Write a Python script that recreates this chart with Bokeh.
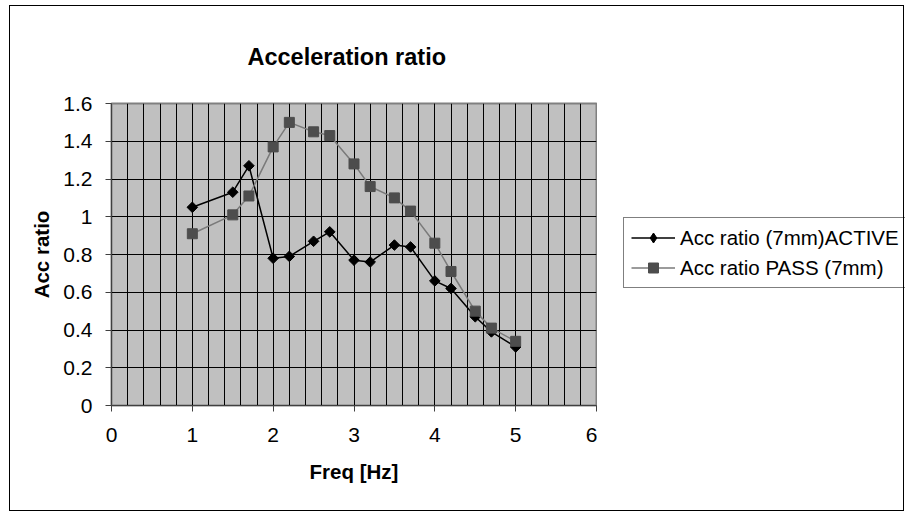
import math
from bokeh.plotting import figure
from bokeh.layouts import row
from bokeh.models import (FixedTicker, CustomJSTickFormatter, Legend, LegendItem,
                          Range1d, InlineStyleSheet)
from bokeh.embed import file_html
from bokeh.resources import INLINE

freq = [1, 1.5, 1.7, 2, 2.2, 2.5, 2.7, 3, 3.2, 3.5, 3.7, 4, 4.2, 4.5, 4.7, 5]
acc_active = [1.05, 1.13, 1.27, 0.78, 0.79, 0.87, 0.92, 0.77, 0.76, 0.85, 0.84, 0.66, 0.62, 0.47, 0.39, 0.31]
acc_passive = [0.91, 1.01, 1.11, 1.37, 1.50, 1.45, 1.43, 1.28, 1.16, 1.10, 1.03, 0.86, 0.71, 0.50, 0.41, 0.34]
x_ticks = [0, 1, 2, 3, 4, 5, 6]
y_ticks = [0, 0.2, 0.4, 0.6, 0.8, 1.0, 1.2, 1.4, 1.6]
x_minor = [i * 0.2 for i in range(31)]
series_names = ["Acc ratio (7mm)ACTIVE", "Acc ratio PASS (7mm)"]

FONT = "Liberation Sans"
ACTIVE_COLOR = "black"
PASSIVE_LINE = "#7a7a7a"
PASSIVE_MARK = "#4d4d4d"

p = figure(width=597, height=512, output_backend="svg", toolbar_location=None,
           x_range=Range1d(0, 6), y_range=Range1d(0, 1.6),
           min_border_left=111, min_border_right=1, min_border_top=103, min_border_bottom=107)
p.background_fill_color = "#c0c0c0"
p.border_fill_color = "white"
p.outline_line_color = "#808080"
p.outline_line_width = 2

p.title.text = "Acceleration ratio"
p.title.align = "left"
p.title.offset = 136
p.title.text_font = FONT
p.title.text_font_size = "23.5px"
p.title.text_font_style = "bold"
p.title.text_color = "black"
p.title.standoff = 68

# grids
p.xaxis.ticker = FixedTicker(ticks=x_ticks, minor_ticks=x_minor)
p.yaxis.ticker = FixedTicker(ticks=y_ticks, minor_ticks=[])
p.xgrid.grid_line_color = "black"
p.xgrid.minor_grid_line_color = "black"
p.ygrid.grid_line_color = "black"

for ax in (p.xaxis[0], p.yaxis[0]):
    ax.axis_line_color = "#404040"
    ax.major_tick_line_color = "#404040"
    ax.major_tick_out = 6
    ax.major_tick_in = 0
    ax.minor_tick_line_color = None
    ax.major_label_text_font = FONT
    ax.major_label_text_font_size = "21px"
    ax.major_label_text_color = "black"
    ax.axis_label_text_font = FONT
    ax.axis_label_text_font_size = "20.5px"
    ax.axis_label_text_font_style = "bold"
    ax.axis_label_text_color = "black"

p.yaxis.formatter = CustomJSTickFormatter(code="return String(Math.round(tick*10)/10);")
p.xaxis.axis_label = "Freq [Hz]"
p.yaxis.axis_label = "Acc ratio"
p.xaxis.major_label_standoff = 16
p.xaxis.axis_label_standoff = 15
p.yaxis.major_label_standoff = 13
p.yaxis.axis_label_standoff = 7

p.line(freq, acc_active, line_color=ACTIVE_COLOR, line_width=1.5)
p.scatter(freq, acc_active, marker="square", angle=math.pi / 4, size=7.5,
          fill_color=ACTIVE_COLOR, line_color=ACTIVE_COLOR)
p.line(freq, acc_passive, line_color=PASSIVE_LINE, line_width=1.5)
p.scatter(freq, acc_passive, marker="square", size=10, fill_color=PASSIVE_MARK, line_color=PASSIVE_MARK)

# legend panel (separate canvas so the legend is not clipped to the plot frame)
pl = figure(width=308, height=512, output_backend="svg", toolbar_location=None,
            x_range=Range1d(0, 1), y_range=Range1d(0, 1), x_axis_type=None, y_axis_type=None,
            min_border_left=0, min_border_right=0, min_border_top=0, min_border_bottom=0)
pl.outline_line_color = None
pl.grid.visible = False
pl.background_fill_color = "white"
pl.border_fill_color = "white"
# legend swatches only: their single point lies outside the visible range
l1 = pl.line([5, 6], [5, 6], line_color=ACTIVE_COLOR, line_width=1.5)
m1 = pl.scatter([5], [5], marker="diamond", size=10, fill_color=ACTIVE_COLOR, line_color=ACTIVE_COLOR)
l2 = pl.line([5, 6], [5, 6], line_color=PASSIVE_LINE, line_width=1.5)
m2 = pl.scatter([5], [5], marker="square", size=10, fill_color=PASSIVE_MARK, line_color=PASSIVE_MARK)

legend = Legend(items=[
    LegendItem(label=series_names[0], renderers=[l1, m1]),
    LegendItem(label=series_names[1], renderers=[l2, m2]),
], location=(26, 117))
legend.label_text_font = FONT
legend.label_text_font_size = "20.5px"
legend.label_text_color = "black"
legend.border_line_color = "black"
legend.border_line_width = 1
legend.background_fill_color = "white"
legend.background_fill_alpha = 1
legend.glyph_width = 44
legend.glyph_height = 25
legend.label_height = 25
legend.spacing = 5
legend.padding = 7
legend.margin = 0
legend.label_standoff = 5
pl.add_layout(legend, "center")

layout = row(p, pl, spacing=0)
layout.stylesheets.append(InlineStyleSheet(css="""
:host { position: relative; }
:host::after { content: ''; position: absolute; left: 9px; top: 5px; width: 895px; height: 506px;
  border: 1.5px solid black; pointer-events: none; box-sizing: border-box; }
"""))

open("out.html", "w").write(file_html(layout, INLINE))
